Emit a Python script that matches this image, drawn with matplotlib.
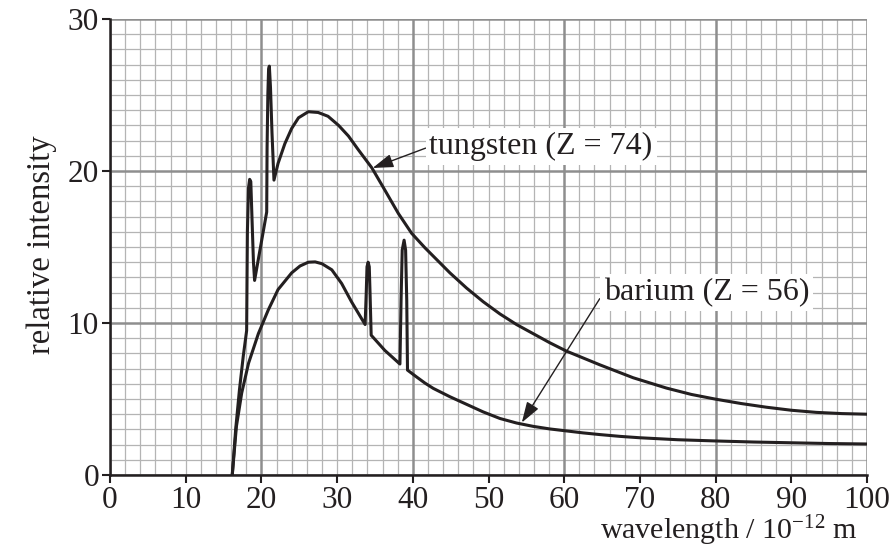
import matplotlib
matplotlib.use("Agg")
import matplotlib.pyplot as plt
import numpy as np

plt.rcParams['font.family'] = ['Liberation Serif', 'DejaVu Serif']
plt.rcParams['mathtext.fontset'] = 'custom'
plt.rcParams['mathtext.rm'] = 'Liberation Serif'
plt.rcParams['mathtext.it'] = 'Liberation Serif:italic'

# Tungsten (Z = 74) spectrum
tungsten_x = [16.15, 16.6, 17.1, 17.6, 18.05, 18.15, 18.3, 18.45, 18.6, 18.75, 18.95, 19.1,
              20.7, 20.75, 20.85, 20.95, 21.05, 21.2, 21.4, 21.66,
              22.2, 23.1, 24.0, 24.9, 26.2, 27.5, 28.8, 30.2, 31.5, 32.8,
              34.6, 36.3, 38.1, 39.85, 41.6, 42.7, 44.9, 47.1, 49.3, 51.5, 53.7,
              55.9, 58.1, 60.3, 62.5, 64.7, 69.1, 73.5, 76.8, 80.1, 83.4, 86.7,
              90.0, 93.3, 96.7, 100.0]
tungsten_y = [0.0, 3.0, 5.6, 7.8, 9.5, 16.0, 18.9, 19.45, 19.3, 17.0, 14.0, 12.8,
              17.3, 21.5, 25.0, 26.7, 26.9, 25.5, 22.5, 19.4,
              20.5, 21.8, 22.8, 23.5, 23.9, 23.85, 23.6, 23.0, 22.3, 21.4,
              20.2, 18.75, 17.2, 15.9, 14.95, 14.4, 13.3, 12.3, 11.4, 10.6, 9.9,
              9.3, 8.7, 8.15, 7.7, 7.25, 6.4, 5.72, 5.3, 4.98, 4.7, 4.46,
              4.26, 4.12, 4.04, 4.0]

# Barium (Z = 56) spectrum
barium_x = [16.15, 16.7, 17.4, 18.3, 19.6, 20.9, 22.2, 24.0, 25.1, 26.2,
            27.1, 28.0, 29.3, 30.6, 31.9, 33.7,
            33.85, 33.95, 34.1, 34.25, 34.35, 34.5,
            36.3, 38.3,
            38.45, 38.6, 38.85, 39.05, 39.2, 39.3,
            40.5, 41.6, 42.7, 44.9, 47.1, 49.3, 51.5, 53.7, 55.9, 58.1, 60.3,
            62.5, 64.7, 67.4, 70.0, 75.0, 80.0, 85.0, 90.0, 95.0, 100.0]
barium_y = [0.0, 3.2, 5.4, 7.35, 9.3, 10.85, 12.2, 13.3, 13.75, 14.0,
            14.02, 13.9, 13.5, 12.6, 11.4, 9.9,
            12.0, 13.7, 14.0, 13.7, 12.0, 9.2,
            8.2, 7.3,
            11.5, 14.8, 15.45, 14.8, 11.5, 6.9,
            6.45, 6.05, 5.7, 5.15, 4.65, 4.15, 3.72, 3.42, 3.2, 3.03, 2.9,
            2.77, 2.66, 2.54, 2.45, 2.32, 2.24, 2.17, 2.12, 2.07, 2.04]

x_ticks = [0, 10, 20, 30, 40, 50, 60, 70, 80, 90, 100]
y_ticks = [0, 10, 20, 30]

fig = plt.figure(figsize=(8.92, 5.49), dpi=100)
ax = fig.add_axes([110/892, 1 - 475/549, 757/892, 456/549])
ax.set_xlim(0, 100)
ax.set_ylim(0, 30)

# graph-paper grid
for gx in np.arange(0, 101, 2):
    major = gx % 20 == 0
    ax.axvline(gx, color='#8e8e8e' if major else '#b4b4b4',
               lw=1.8 if major else 0.9, zorder=0.5 if major else 0.4)
for gy in np.arange(0, 31, 1):
    major = gy % 10 == 0
    ax.axhline(gy, color='#8e8e8e' if major else '#b4b4b4',
               lw=1.8 if major else 0.9, zorder=0.5 if major else 0.4)

line_col = '#231f20'
ax.plot(tungsten_x, tungsten_y, color=line_col, lw=2.2, solid_joinstyle='round', zorder=3)
ax.plot(barium_x, barium_y, color=line_col, lw=2.2, solid_joinstyle='round', zorder=3)

ax.spines['top'].set_visible(False)
ax.spines['right'].set_visible(False)
for s in ('left', 'bottom'):
    ax.spines[s].set_linewidth(1.8)
    ax.spines[s].set_color(line_col)
    ax.spines[s].set_zorder(4)

ax.set_xticks(x_ticks)
ax.set_yticks(y_ticks)
ax.tick_params(direction='out', length=6, width=1.5, color=line_col,
               labelsize=22.5, labelcolor=line_col, pad=2)

bbox = dict(boxstyle='square,pad=0.12', fc='white', ec='none')
arrow = dict(arrowstyle='-|>,head_length=0.55,head_width=0.18', color=line_col,
             lw=1.0, shrinkA=0, shrinkB=0, relpos=(0.0, 0.5))
ax.annotate('tungsten (Z = 74)', xy=(34.7, 20.2), xytext=(42.2, 21.6),
            fontsize=23, color=line_col, ha='left', va='center',
            bbox=bbox, arrowprops=arrow, zorder=5)
ax.annotate('barium (Z = 56)', xy=(54.4, 3.45), xytext=(65.2, 12.0),
            fontsize=23, color=line_col, ha='left', va='center',
            bbox=bbox, arrowprops=arrow, zorder=5)

fig.text(858/892, 1 - 531/549, r'wavelength / 10$^{\mathrm{-12}}$ m',
         ha='right', va='center', fontsize=21.6, color=line_col)
fig.text(42/892, 1 - 245/549, 'relative intensity', rotation=90,
         ha='center', va='center', fontsize=23.5, color=line_col)

fig.savefig('out.png', dpi=100)
